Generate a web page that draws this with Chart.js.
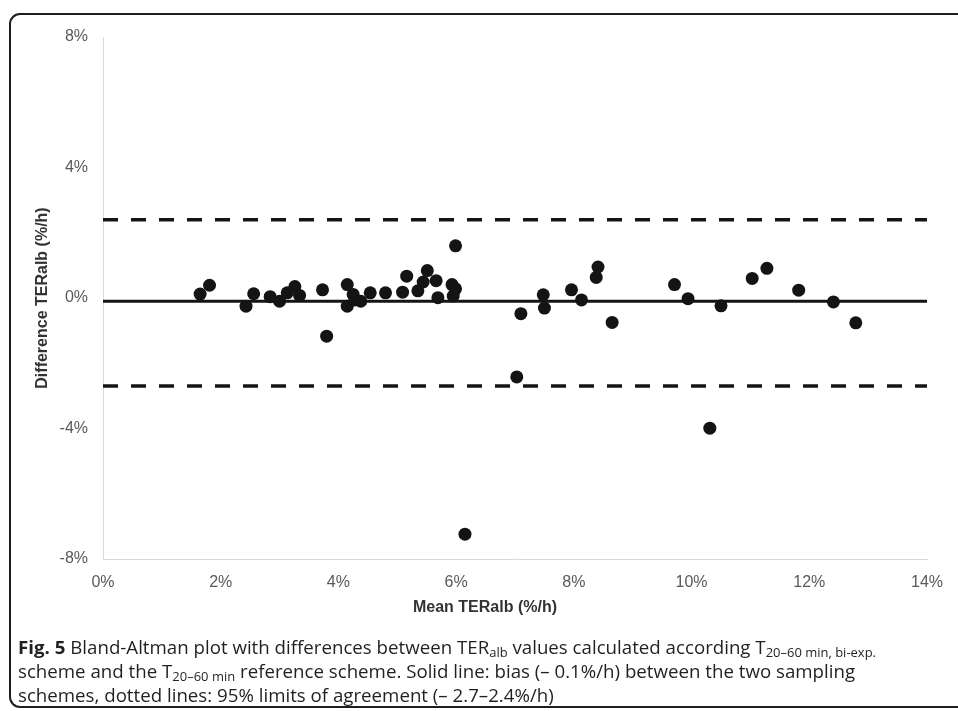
<!DOCTYPE html>
<html>
<head>
<meta charset="utf-8">
<script src="https://cdn.jsdelivr.net/npm/chart.js@4"></script>
<style>
  html, body { margin: 0; padding: 0; background: #fff; width: 958px; height: 711px; overflow: hidden; }
  #wrap { position: relative; width: 958px; height: 711px; }
  #chart { position: absolute; left: 0; top: 0; }
  #frame { position: absolute; left: 9px; top: 13px; width: 1000px; height: 695px;
           border: 2px solid #1e1e1e; border-radius: 11px; pointer-events: none; box-sizing: border-box; }
  #caption { position: absolute; left: 18px; top: 635px; font-family: "Open Sans", "Noto Sans", sans-serif;
             font-size: 18px; line-height: 24px; color: #231f20; white-space: nowrap; transform-origin: 0 0; }
  #caption b { font-weight: 700; }
  #caption sub { font-size: 12.5px; vertical-align: -3px; line-height: 0; }
</style>
</head>
<body>
<div id="wrap">
  <canvas id="chart" width="958" height="625"></canvas>
  <div id="frame"></div>
  <div id="caption">
    <div><b>Fig. 5</b> Bland-Altman plot with differences between TER<sub>alb</sub> values calculated according T<sub>20–60 min, bi-exp.</sub></div>
    <div>scheme and the T<sub>20–60 min</sub> reference scheme. Solid line: bias (– 0.1%/h) between the two sampling</div>
    <div>schemes, dotted lines: 95% limits of agreement (– 2.7–2.4%/h)</div>
  </div>
</div>
<script>
// ---- data ----
const meanTER = [1.65,1.81,2.43,2.56,2.84,3.00,3.13,3.26,3.34,3.73,3.80,4.15,4.15,4.25,4.28,4.38,4.54,4.80,5.09,5.16,5.35,5.44,5.51,5.66,5.69,5.93,5.99,5.95,5.99,6.15,7.03,7.10,7.48,7.50,7.96,8.13,8.38,8.41,8.65,9.71,9.94,10.31,10.50,11.03,11.28,11.82,12.41,12.79];
const diffTER = [0.12,0.39,-0.25,0.13,0.04,-0.10,0.16,0.35,0.08,0.25,-1.17,0.41,-0.25,0.11,-0.06,-0.10,0.16,0.16,0.18,0.67,0.22,0.49,0.84,0.53,0.01,0.41,0.28,0.06,1.60,-7.24,-2.42,-0.48,0.10,-0.31,0.25,-0.06,0.63,0.95,-0.75,0.41,-0.02,-3.99,-0.24,0.60,0.91,0.24,-0.12,-0.76];
const lineX = [0, 14];
const bias = -0.1;
const upperLoA = 2.4;
const lowerLoA = -2.7;
const xTicks = [0, 2, 4, 6, 8, 10, 12, 14];
const yTicks = [-8, -4, 0, 4, 8];
const xTitle = 'Mean TERalb (%/h)';
const yTitle = 'Difference TERalb (%/h)';

const points = meanTER.map((x, i) => ({ x: x, y: diffTER[i] }));
const hLine = v => lineX.map(x => ({ x: x, y: v }));

const fontFamily = '"Liberation Sans", Arial, sans-serif';
const tickFont = { family: fontFamily, size: 16 };
const titleFont = { family: fontFamily, size: 16, weight: 'bold' };

// x-axis title drawn slightly left of the plot centre, as in the reference
const xTitlePlugin = {
  id: 'xTitle',
  afterDraw(chart) {
    const { ctx, chartArea } = chart;
    ctx.save();
    ctx.font = 'bold 16px ' + fontFamily;
    ctx.fillStyle = '#333';
    ctx.textAlign = 'center';
    ctx.textBaseline = 'middle';
    ctx.fillText(xTitle, (chartArea.left + chartArea.right) / 2 - 30, chartArea.bottom + 49);
    ctx.restore();
  }
};

new Chart(document.getElementById('chart'), {
  type: 'scatter',
  data: {
    datasets: [
      { data: points, backgroundColor: '#141414', borderWidth: 0, pointRadius: 6.5, pointHoverRadius: 6.5 },
      { type: 'line', data: hLine(bias), borderColor: '#141414', borderWidth: 3, pointRadius: 0, fill: false },
      { type: 'line', data: hLine(upperLoA), borderColor: '#141414', borderWidth: 3.5, borderDash: [15, 13], pointRadius: 0, fill: false },
      { type: 'line', data: hLine(lowerLoA), borderColor: '#141414', borderWidth: 3.5, borderDash: [15, 13], pointRadius: 0, fill: false }
    ]
  },
  plugins: [xTitlePlugin],
  options: {
    responsive: false,
    animation: false,
    layout: { padding: { left: 13, top: 37, right: 31, bottom: 6 } },
    plugins: { legend: { display: false }, tooltip: { enabled: false } },
    scales: {
      x: {
        type: 'linear', min: 0, max: 14,
        afterBuildTicks: ax => { ax.ticks = xTicks.map(v => ({ value: v })); },
        afterFit: ax => { ax.height = 60; },
        ticks: { callback: v => v + '%', font: tickFont, color: '#595959', padding: 14, maxRotation: 0 },
        grid: { display: false, drawTicks: false },
        border: { display: true, color: '#d9d9d9', width: 1 },
        title: { display: false }
      },
      y: {
        type: 'linear', min: -8, max: 8,
        afterBuildTicks: ax => { ax.ticks = yTicks.map(v => ({ value: v })); },
        afterFit: ax => { ax.width = 90; },
        ticks: { callback: v => v + '%', font: tickFont, color: '#595959', padding: 15 },
        grid: { display: false, drawTicks: false },
        border: { display: true, color: '#d9d9d9', width: 1 },
        title: { display: true, text: yTitle, font: titleFont, color: '#333', padding: { top: 20, bottom: 0 } }
      }
    }
  }
});

// fit caption width to the reference line length
const cap = document.getElementById('caption');
const first = cap.children[0];
const w = first.getBoundingClientRect().width;
const target = 858;
cap.style.transform = 'scaleX(' + (target / w) + ')';
</script>
</body>
</html>
